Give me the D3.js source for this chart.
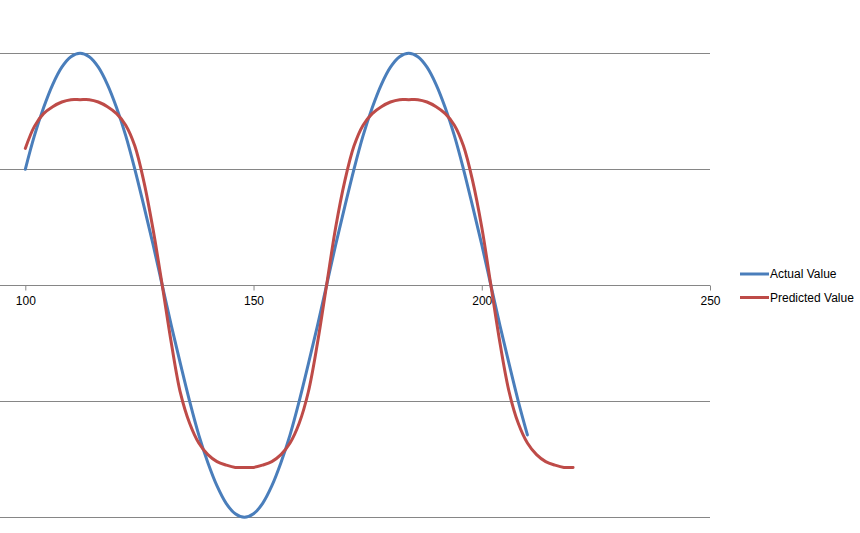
<!DOCTYPE html>
<html>
<head>
<meta charset="utf-8">
<script src="https://cdn.jsdelivr.net/npm/d3@7"></script>
<style>
  html, body { margin: 0; padding: 0; background: #fff; }
  svg { display: block; }
  text { font-family: "Liberation Sans", Arial, sans-serif; fill: #000; }
</style>
</head>
<body>
<svg id="chart" width="860" height="533"></svg>
<script>
// ---- data ----
const actualX = d3.range(100, 211, 2);
const actualY = [
  1.00, 1.29, 1.53, 1.73, 1.88, 1.97, 2.00, 1.97, 1.88, 1.73,
  1.53, 1.29, 1.00, 0.68, 0.35, 0.00, -0.35, -0.68, -1.00, -1.29,
  -1.53, -1.73, -1.88, -1.97, -2.00, -1.97, -1.88, -1.73, -1.53, -1.29,
  -1.00, -0.68, -0.35, 0.00, 0.35, 0.68, 1.00, 1.29, 1.53, 1.73,
  1.88, 1.97, 2.00, 1.97, 1.88, 1.73, 1.53, 1.29, 1.00, 0.68,
  0.35, 0.00, -0.35, -0.68, -1.00, -1.29
];
const predictedX = d3.range(100, 221, 2);
const predictedY = [
  1.18, 1.37, 1.48, 1.54, 1.58, 1.60, 1.60, 1.60, 1.58, 1.54,
  1.48, 1.38, 1.20, 0.89, 0.48, 0.00, -0.50, -0.93, -1.19, -1.36,
  -1.46, -1.52, -1.55, -1.57, -1.57, -1.57, -1.55, -1.52, -1.46, -1.36,
  -1.19, -0.92, -0.50, 0.00, 0.50, 0.90, 1.20, 1.38, 1.48, 1.54,
  1.58, 1.60, 1.60, 1.60, 1.58, 1.54, 1.48, 1.38, 1.20, 0.90,
  0.50, 0.00, -0.50, -0.92, -1.19, -1.36, -1.46, -1.52, -1.55, -1.57,
  -1.57
];
const xTicks = [100, 150, 200, 250];
const yGrid = [-2, -1, 1, 2];
const seriesNames = ["Actual Value", "Predicted Value"];
const seriesColors = ["#4a7ebb", "#be4b48"];

// ---- layout ----
const svg = d3.select("#chart");
const x = d3.scaleLinear().domain([100, 250]).range([25.3, 710]);
const y = d3.scaleLinear().domain([-2, 2]).range([517.3, 53.3]);
const gridLeft = 0, gridRight = 710;

// gridlines
svg.append("g").selectAll("line").data(yGrid).join("line")
  .attr("x1", gridLeft).attr("x2", gridRight)
  .attr("y1", d => Math.round(y(d)) + 0.5).attr("y2", d => Math.round(y(d)) + 0.5)
  .attr("stroke", "#868686").attr("stroke-width", 1);

// x axis at y=0
const xAxis = d3.axisBottom(x).tickValues(xTicks).tickSize(5).tickPadding(6)
  .tickFormat(d3.format("d"));
const gx = svg.append("g")
  .attr("transform", `translate(0,${Math.round(y(0)) + 0.5})`)
  .call(xAxis);
gx.select(".domain").remove();
gx.append("line").attr("x1", gridLeft).attr("x2", gridRight)
  .attr("stroke", "#868686").attr("stroke-width", 1);
gx.selectAll(".tick line").attr("stroke", "#868686");
gx.selectAll(".tick text").attr("font-size", 12)
  .style("font-family", "'Liberation Sans', Arial, sans-serif").attr("fill", "#000");

// lines
const line = d3.line().x(d => x(d[0])).y(d => y(d[1])).curve(d3.curveCatmullRom.alpha(0.5));
const series = [
  actualX.map((v, i) => [v, actualY[i]]),
  predictedX.map((v, i) => [v, predictedY[i]])
];
svg.append("g").selectAll("path").data(series).join("path")
  .attr("d", line)
  .attr("fill", "none")
  .attr("stroke", (d, i) => seriesColors[i])
  .attr("stroke-width", 3)
  .attr("stroke-linejoin", "round")
  .attr("stroke-linecap", "round");

// legend
const lg = svg.append("g").attr("transform", "translate(740,274)");
const item = lg.selectAll("g").data(seriesNames).join("g")
  .attr("transform", (d, i) => `translate(0,${i * 23.5})`);
item.append("line").attr("x1", 0).attr("x2", 29).attr("y1", 0).attr("y2", 0)
  .attr("stroke", (d, i) => seriesColors[i]).attr("stroke-width", 3);
item.append("text").attr("x", 30).attr("y", 4).attr("font-size", 12).text(d => d);
</script>
</body>
</html>
